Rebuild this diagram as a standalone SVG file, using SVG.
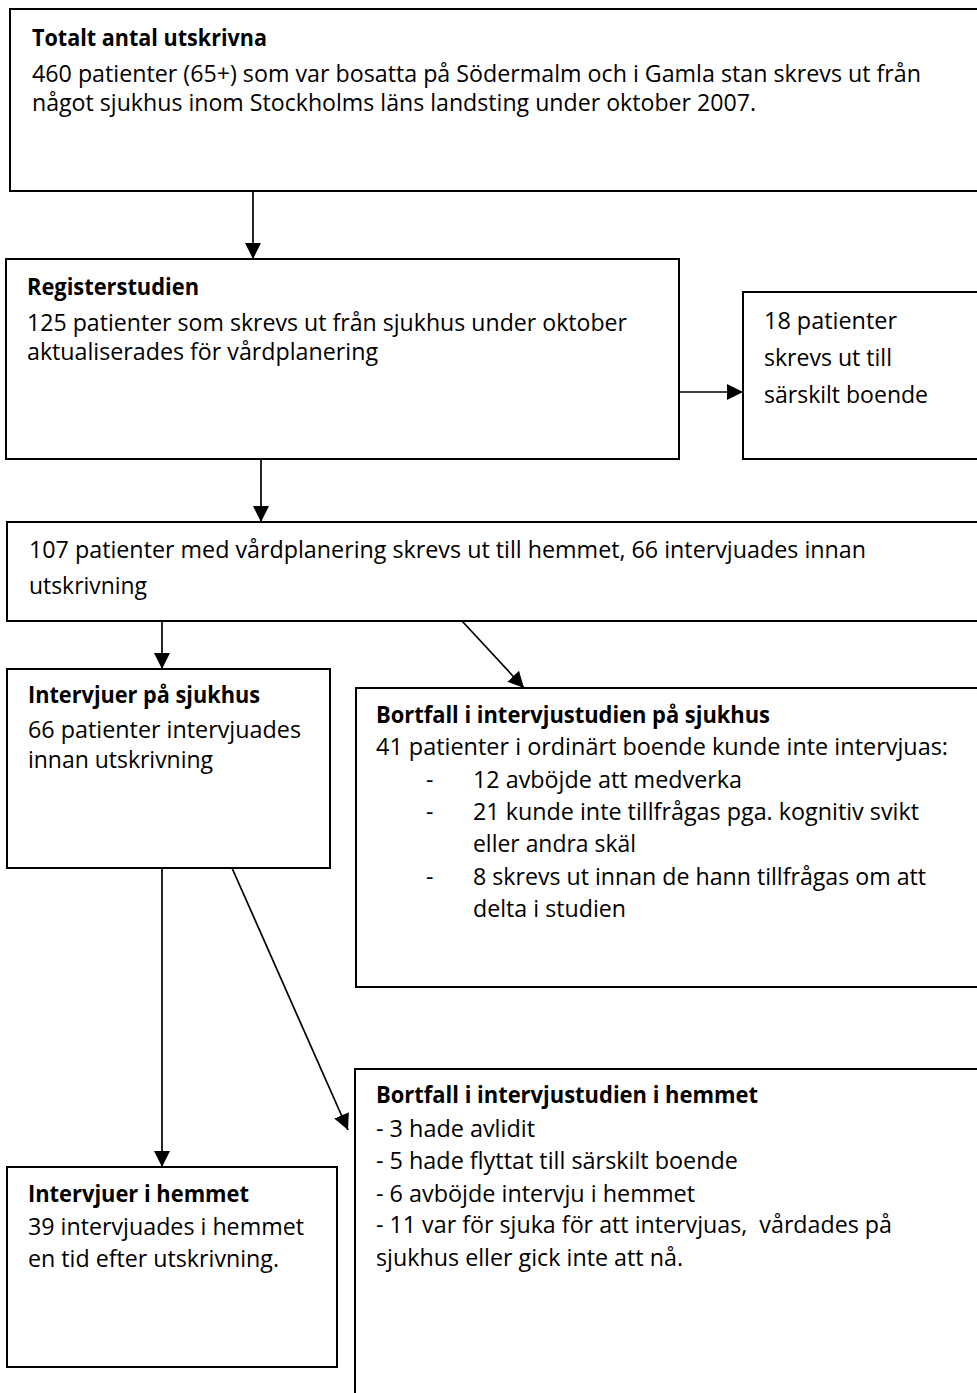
<svg xmlns="http://www.w3.org/2000/svg" width="977" height="1393" viewBox="0 0 977 1393">
<style>
  .box { fill: #ffffff; stroke: #000000; stroke-width: 2; }
  text { font-family: "Open Sans", "Liberation Sans", sans-serif; font-size: 23px; fill: #000000; }
  .b { font-weight: bold; }
  .conn { stroke: #000000; stroke-width: 1.7; fill: none; }
</style>
<defs>
  <marker id="arrow" viewBox="0 0 16 16" markerUnits="userSpaceOnUse" markerWidth="16" markerHeight="16" refX="16" refY="8" orient="auto">
    <path d="M0,0 L16,8 L0,16 Z" fill="#000000"/>
  </marker>
</defs>
<rect width="977" height="1393" fill="#ffffff"/>

<g id="connectors">
  <line class="conn" x1="253" y1="191" x2="253" y2="259" marker-end="url(#arrow)"/>
  <line class="conn" x1="679" y1="392" x2="743" y2="392" marker-end="url(#arrow)"/>
  <line class="conn" x1="261" y1="459" x2="261" y2="522" marker-end="url(#arrow)"/>
  <line class="conn" x1="162" y1="621" x2="162" y2="669" marker-end="url(#arrow)"/>
  <line class="conn" x1="462" y1="621" x2="524" y2="688" marker-end="url(#arrow)"/>
  <line class="conn" x1="162" y1="868" x2="162" y2="1167" marker-end="url(#arrow)"/>
  <line class="conn" x1="232" y1="868" x2="348" y2="1130" marker-end="url(#arrow)"/>
</g>

<g id="node-totalt">
  <rect class="box" x="10" y="9" width="1000" height="182"/>
  <text class="b" x="32" y="46" textLength="235" lengthAdjust="spacingAndGlyphs">Totalt antal utskrivna</text>
  <text x="32" y="82" textLength="889" lengthAdjust="spacingAndGlyphs">460 patienter (65+) som var bosatta på Södermalm och i Gamla stan skrevs ut från</text>
  <text x="32" y="111" textLength="724" lengthAdjust="spacingAndGlyphs">något sjukhus inom Stockholms läns landsting under oktober 2007.</text>
</g>

<g id="node-register">
  <rect class="box" x="6" y="259" width="673" height="200"/>
  <text class="b" x="27" y="295" textLength="172" lengthAdjust="spacingAndGlyphs">Registerstudien</text>
  <text x="27" y="331" textLength="600" lengthAdjust="spacingAndGlyphs">125 patienter som skrevs ut från sjukhus under oktober</text>
  <text x="27" y="360" textLength="351" lengthAdjust="spacingAndGlyphs">aktualiserades för vårdplanering</text>
</g>

<g id="node-sarskilt">
  <rect class="box" x="743" y="292" width="300" height="167"/>
  <text x="764" y="329" textLength="133" lengthAdjust="spacingAndGlyphs">18 patienter</text>
  <text x="764" y="366" textLength="128" lengthAdjust="spacingAndGlyphs">skrevs ut till</text>
  <text x="764" y="403" textLength="164" lengthAdjust="spacingAndGlyphs">särskilt boende</text>
</g>

<g id="node-107">
  <rect class="box" x="7" y="522" width="1000" height="99"/>
  <text x="29" y="558" textLength="837" lengthAdjust="spacingAndGlyphs">107 patienter med vårdplanering skrevs ut till hemmet, 66 intervjuades innan</text>
  <text x="29" y="594" textLength="118" lengthAdjust="spacingAndGlyphs">utskrivning</text>
</g>

<g id="node-intervju-sjukhus">
  <rect class="box" x="7" y="669" width="323" height="199"/>
  <text class="b" x="28" y="703" textLength="232" lengthAdjust="spacingAndGlyphs">Intervjuer på sjukhus</text>
  <text x="28" y="738" textLength="273" lengthAdjust="spacingAndGlyphs">66 patienter intervjuades</text>
  <text x="28" y="768" textLength="185" lengthAdjust="spacingAndGlyphs">innan utskrivning</text>
</g>

<g id="node-bortfall-sjukhus">
  <rect class="box" x="356" y="688" width="700" height="299"/>
  <text class="b" x="376" y="723" textLength="394" lengthAdjust="spacingAndGlyphs">Bortfall i intervjustudien på sjukhus</text>
  <text x="376" y="755" textLength="572" lengthAdjust="spacingAndGlyphs">41 patienter i ordinärt boende kunde inte intervjuas:</text>
  <text x="426" y="788">-</text>
  <text x="473" y="788" textLength="269" lengthAdjust="spacingAndGlyphs">12 avböjde att medverka</text>
  <text x="426" y="820">-</text>
  <text x="473" y="820" textLength="446" lengthAdjust="spacingAndGlyphs">21 kunde inte tillfrågas pga. kognitiv svikt</text>
  <text x="473" y="852" textLength="163" lengthAdjust="spacingAndGlyphs">eller andra skäl</text>
  <text x="426" y="885">-</text>
  <text x="473" y="885" textLength="453" lengthAdjust="spacingAndGlyphs">8 skrevs ut innan de hann tillfrågas om att</text>
  <text x="473" y="917" textLength="153" lengthAdjust="spacingAndGlyphs">delta i studien</text>
</g>

<g id="node-intervju-hemmet">
  <rect class="box" x="7" y="1167" width="330" height="200"/>
  <text class="b" x="28" y="1202" textLength="221" lengthAdjust="spacingAndGlyphs">Intervjuer i hemmet</text>
  <text x="28" y="1235" textLength="276" lengthAdjust="spacingAndGlyphs">39 intervjuades i hemmet</text>
  <text x="28" y="1267" textLength="251" lengthAdjust="spacingAndGlyphs">en tid efter utskrivning.</text>
</g>

<g id="node-bortfall-hemmet">
  <rect class="box" x="355" y="1069" width="700" height="400"/>
  <text class="b" x="376" y="1103" textLength="382" lengthAdjust="spacingAndGlyphs">Bortfall i intervjustudien i hemmet</text>
  <text x="376" y="1137" textLength="159" lengthAdjust="spacingAndGlyphs">- 3 hade avlidit</text>
  <text x="376" y="1169" textLength="362" lengthAdjust="spacingAndGlyphs">- 5 hade flyttat till särskilt boende</text>
  <text x="376" y="1202" textLength="319" lengthAdjust="spacingAndGlyphs">- 6 avböjde intervju i hemmet</text>
  <text x="376" y="1233" textLength="516" lengthAdjust="spacingAndGlyphs" xml:space="preserve">- 11 var för sjuka för att intervjuas,  vårdades på</text>
  <text x="376" y="1266" textLength="307" lengthAdjust="spacingAndGlyphs">sjukhus eller gick inte att nå.</text>
</g>
</svg>
